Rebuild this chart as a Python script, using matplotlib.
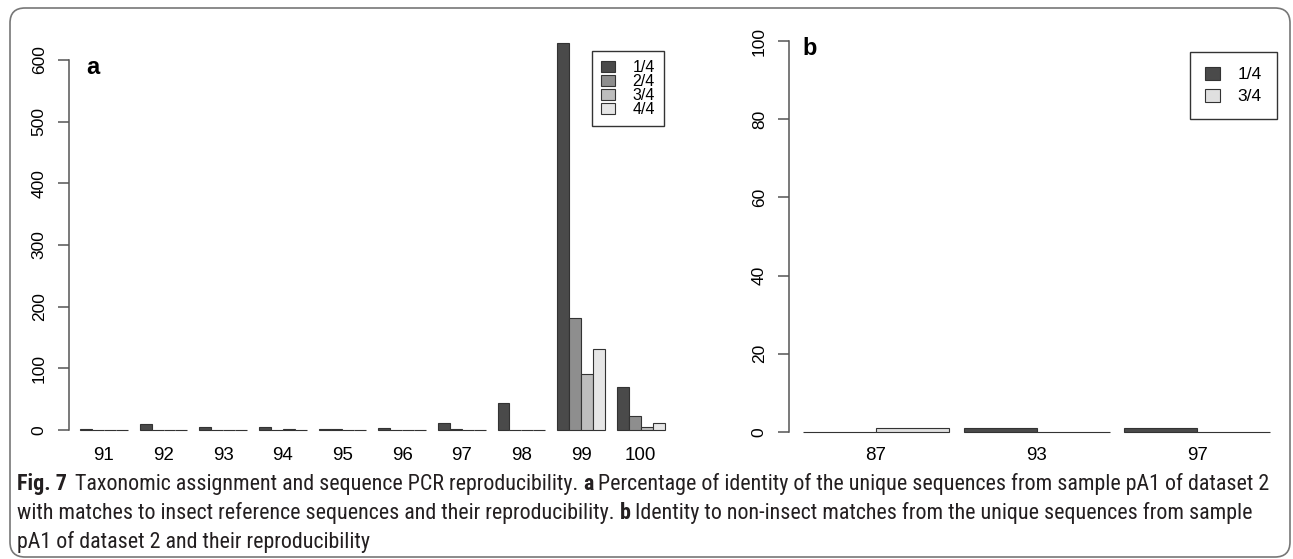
import matplotlib
matplotlib.use('Agg')
import matplotlib.pyplot as plt
from matplotlib.patches import FancyBboxPatch
from matplotlib.transforms import IdentityTransform

W, H = 1293, 559

# panel a : identity to insect references
identity_a = ['91', '92', '93', '94', '95', '96', '97', '98', '99', '100']
levels_a = ['1/4', '2/4', '3/4', '4/4']
counts_a14 = [1, 9, 5, 5, 2, 3, 11, 44, 628, 70]
counts_a24 = [0, 0, 0, 0, 1, 0, 1, 0, 182, 23]
counts_a34 = [0, 0, 0, 1, 0, 0, 0, 0, 91, 5]
counts_a44 = [0, 0, 0, 0, 0, 0, 0, 0, 131, 12]
colors_a = ['#4a4a4a', '#8e8e8e', '#bdbdbd', '#e6e6e6']

# panel b : non-insect matches
identity_b = ['87', '93', '97']
levels_b = ['1/4', '3/4']
counts_b14 = [0, 1, 1]
counts_b34 = [1, 0, 0]
colors_b = ['#4a4a4a', '#e0e0e0']

caption = [
    [('Fig. 7', True), (' Taxonomic assignment and sequence PCR reproducibility.', False), ('a', True),
     ('Percentage of identity of the unique sequences from sample pA1 of dataset 2', False)],
    [('with matches to insect reference sequences and their reproducibility.', False), ('b', True),
     ('Identity to non-insect matches from the unique sequences from sample', False)],
    [('pA1 of dataset 2 and their reproducibility', False)],
]

plt.rcParams['font.family'] = ['Liberation Sans', 'DejaVu Sans']
cap_font = ['Roboto Condensed', 'Liberation Sans Narrow', 'DejaVu Sans']

fig = plt.figure(figsize=(W / 100, H / 100), dpi=100)


def px_axes(l, t, r, b):
    return fig.add_axes([l / W, 1 - b / H, (r - l) / W, (b - t) / H])


def style_axis(ax, ticks):
    for s in ['top', 'right', 'bottom']:
        ax.spines[s].set_visible(False)
    ax.spines['left'].set_bounds(ticks[0], ticks[-1])
    ax.spines['left'].set_color('#555555')
    ax.spines['left'].set_linewidth(1.1)
    ax.set_yticks(ticks)
    ax.tick_params(axis='y', length=8, width=1.1, color='#555555', pad=8, labelsize=12.5)
    for lab in ax.get_yticklabels():
        lab.set_rotation(90)
        lab.set_va('center')
    ax.tick_params(axis='x', length=0, labelsize=13.5)


# ---- panel a
unit_a = 11.93
ax1 = px_axes(69, 430 - 650 * 370 / 600, 690, 430 + 5 * 370 / 600)
series_a = [counts_a14, counts_a24, counts_a34, counts_a44]
for s, vals in enumerate(series_a):
    ax1.bar([1 + 5 * g + s for g in range(len(vals))], vals, width=1, align='edge',
            color=colors_a[s], edgecolor='#333333', linewidth=0.8, label=levels_a[s])
ax1.set_xlim(1 - 11 / unit_a, 1 + 610 / unit_a)
ax1.set_ylim(-5, 650)
style_axis(ax1, [0, 100, 200, 300, 400, 500, 600])
ax1.set_xticks([3 + 5 * g for g in range(len(identity_a))])
ax1.set_xticklabels(identity_a)
ax1.tick_params(axis='x', pad=10)
ax1.legend(loc='upper left', bbox_to_anchor=(592 / W, 1 - 51 / H), bbox_transform=fig.transFigure,
           borderaxespad=0, fancybox=False, edgecolor='#333333', framealpha=1, fontsize=11.5,
           labelspacing=-0.05, borderpad=0.55, handlelength=0.9, handleheight=0.65, handletextpad=1.1)
fig.text(86 / W, 1 - 74 / H, 'a', fontsize=17, fontweight='bold', ha='left', va='baseline')

# ---- panel b
unit_b = 73
ax2 = px_axes(789, 432 - 104 * 3.91, 1285, 432 + 1 * 3.91)
series_b = [counts_b14, counts_b34]
for s, vals in enumerate(series_b):
    ax2.bar([0.2 + 2.2 * g + s for g in range(len(vals))], vals, width=1, align='edge',
            color=colors_b[s], edgecolor='#333333', linewidth=0.8, label=levels_b[s])
ax2.set_xlim(0.2 - 14 / unit_b, 0.2 + 482 / unit_b)
ax2.set_ylim(-1, 104)
style_axis(ax2, [0, 20, 40, 60, 80, 100])
ax2.set_xticks([1.2 + 2.2 * g for g in range(len(identity_b))])
ax2.set_xticklabels(identity_b)
ax2.tick_params(axis='x', pad=8)
ax2.legend(loc='upper left', bbox_to_anchor=(1190 / W, 1 - 52 / H), bbox_transform=fig.transFigure,
           borderaxespad=0, fancybox=False, edgecolor='#333333', framealpha=1, fontsize=12.5,
           labelspacing=0.35, borderpad=0.85, handlelength=0.9, handleheight=0.8, handletextpad=1.0)
fig.text(802 / W, 1 - 55 / H, 'b', fontsize=17, fontweight='bold', ha='left', va='baseline')

# ---- caption, fitted to the width of the first line
renderer = fig.canvas.get_renderer()


def text_width(txt, size, bold):
    t = fig.text(0, 0, txt, fontsize=size, family=cap_font, fontstretch='condensed',
                 fontweight='bold' if bold else 'normal')
    w = t.get_window_extent(renderer).width
    t.remove()
    return w


def line_width(runs, size):
    sp = text_width('x x', size, False) - text_width('xx', size, False)
    return sum(text_width(r.strip(), size, b) for r, b in runs) + sp * (len(runs) - 1)


cap_size = 14 * 1258 / line_width(caption[0], 14)
space = text_width('x x', cap_size, False) - text_width('xx', cap_size, False)
for runs, base in zip(caption, [490, 519, 548]):
    x = 17
    for i, (txt, bold) in enumerate(runs):
        txt = txt.strip()
        t = fig.text(x / W, 1 - base / H, txt, fontsize=cap_size, family=cap_font, fontstretch='condensed',
                     fontweight='bold' if bold else 'normal', ha='left', va='baseline', color='#231f20')
        x += t.get_window_extent(renderer).width + space * (1.6 if i == 0 and bold else 1)

# rounded frame around the whole figure
fig.patches.append(FancyBboxPatch((10, 2), 1280, 549, boxstyle='round,pad=0,rounding_size=15',
                                  transform=IdentityTransform(), facecolor='none',
                                  edgecolor='#777777', linewidth=1.2))

fig.savefig('out.png', dpi=100)
